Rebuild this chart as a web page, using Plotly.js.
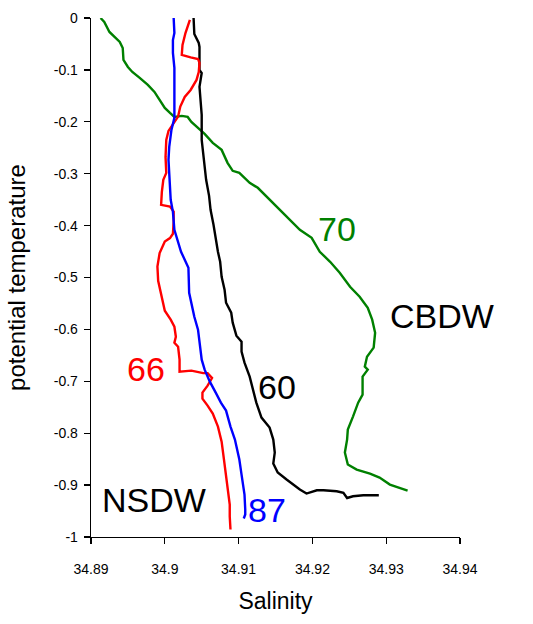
<!DOCTYPE html>
<html>
<head>
<meta charset="utf-8">
<script src="https://cdn.plot.ly/plotly-3.0.1.min.js"></script>
<style>html,body{margin:0;padding:0;background:#fff;}#chart{width:533px;height:624px;}</style>
</head>
<body>
<div id="chart"></div>
<script>
// Station 70 (green)
const sal70 = [34.8913,34.8918,34.8925,34.8932,34.8939,34.8943,34.8944,34.8950,34.8956,34.8966,34.8977,34.8986,34.8993,34.9000,34.9007,34.9013,34.9023,34.9031,34.9036,34.9043,34.9047,34.9054,34.9065,34.9077,34.9085,34.9092,34.9101,34.9115,34.9126,34.9142,34.9156,34.9169,34.9183,34.9199,34.9210,34.9224,34.9237,34.9251,34.9264,34.9275,34.9281,34.9285,34.9283,34.9274,34.9271,34.9275,34.9268,34.9268,34.9262,34.9255,34.9248,34.9247,34.9244,34.9248,34.9260,34.9278,34.9291,34.9305,34.9319,34.9329];
const theta70 = [0.0,-0.0077,-0.0269,-0.0366,-0.0462,-0.0577,-0.0808,-0.0943,-0.1040,-0.1155,-0.1290,-0.1424,-0.1578,-0.1732,-0.1829,-0.1906,-0.1886,-0.1906,-0.2002,-0.2098,-0.2156,-0.2233,-0.2406,-0.2541,-0.2791,-0.2945,-0.2984,-0.3176,-0.3272,-0.3503,-0.3696,-0.3888,-0.4081,-0.4235,-0.4504,-0.4697,-0.4909,-0.5178,-0.5371,-0.5582,-0.5813,-0.6064,-0.6352,-0.6526,-0.6718,-0.6776,-0.6910,-0.7257,-0.7411,-0.7680,-0.7931,-0.8123,-0.8373,-0.8604,-0.8701,-0.8778,-0.8855,-0.8990,-0.9066,-0.9105];

// Station 87 (blue)
const sal87 = [34.9012,34.9013,34.9011,34.9011,34.9013,34.9013,34.9012,34.9013,34.9009,34.9006,34.9005,34.9007,34.9008,34.9011,34.9013,34.9022,34.9028,34.9032,34.9033,34.9036,34.9040,34.9045,34.9048,34.9050,34.9054,34.9061,34.9069,34.9076,34.9083,34.9089,34.9095,34.9101,34.9104,34.9108,34.9109,34.9109,34.9107];
const theta87 = [0.0,-0.0289,-0.0424,-0.0674,-0.0962,-0.1328,-0.1771,-0.1925,-0.2156,-0.2483,-0.2733,-0.3215,-0.3503,-0.3734,-0.4081,-0.4504,-0.4678,-0.4812,-0.5294,-0.5486,-0.5756,-0.6006,-0.6295,-0.6583,-0.6776,-0.7007,-0.7218,-0.7411,-0.7565,-0.7873,-0.8123,-0.8508,-0.8797,-0.9182,-0.9471,-0.9567,-0.9644];

// Station 66 (red)
const sal66 = [34.9034,34.9028,34.9024,34.9023,34.9035,34.9045,34.9047,34.9046,34.9043,34.9035,34.9027,34.9021,34.9018,34.9012,34.9005,34.9002,34.9001,34.9002,34.8998,34.8996,34.8995,34.9007,34.9012,34.9012,34.9011,34.9007,34.9000,34.8993,34.8990,34.8991,34.8995,34.9000,34.9008,34.9013,34.9015,34.9013,34.9018,34.9020,34.9020,34.9036,34.9052,34.9058,34.9064,34.9058,34.9051,34.9051,34.9058,34.9065,34.9072,34.9077,34.9080,34.9083,34.9086,34.9088,34.9088,34.9089];
const theta66 = [-0.0038,-0.0289,-0.0520,-0.0712,-0.0760,-0.0789,-0.0866,-0.1040,-0.1193,-0.1386,-0.1521,-0.1707,-0.1900,-0.2021,-0.2175,-0.2348,-0.2676,-0.2984,-0.3118,-0.3349,-0.3600,-0.3632,-0.3729,-0.3927,-0.4158,-0.4241,-0.4306,-0.4529,-0.4787,-0.5063,-0.5332,-0.5640,-0.5813,-0.5948,-0.6141,-0.6256,-0.6333,-0.6583,-0.6814,-0.6795,-0.6843,-0.6843,-0.6936,-0.7084,-0.7218,-0.7334,-0.7469,-0.7623,-0.7873,-0.8162,-0.8489,-0.8816,-0.9086,-0.9374,-0.9605,-0.9856];

// Station 60 (black)
const sal60 = [34.9039,34.9040,34.9046,34.9047,34.9047,34.9050,34.9047,34.9048,34.9050,34.9050,34.9053,34.9056,34.9060,34.9062,34.9066,34.9069,34.9072,34.9075,34.9077,34.9081,34.9083,34.9090,34.9092,34.9097,34.9104,34.9104,34.9108,34.9115,34.9120,34.9124,34.9131,34.9142,34.9147,34.9149,34.9147,34.9153,34.9165,34.9172,34.9183,34.9192,34.9206,34.9215,34.9233,34.9242,34.9247,34.9255,34.9269,34.9290];
const theta60 = [0.0,-0.0308,-0.0481,-0.0558,-0.1001,-0.1059,-0.1328,-0.1521,-0.1867,-0.2348,-0.2733,-0.3118,-0.3426,-0.3696,-0.3985,-0.4273,-0.4504,-0.4697,-0.4986,-0.5236,-0.5486,-0.5679,-0.5871,-0.6121,-0.6237,-0.6429,-0.6641,-0.6910,-0.7161,-0.7411,-0.7700,-0.7892,-0.8123,-0.8373,-0.8585,-0.8758,-0.8893,-0.8970,-0.9086,-0.9163,-0.9099,-0.9099,-0.9118,-0.9149,-0.9249,-0.9215,-0.9197,-0.9197];

// Axis ticks
const xTickVals = [34.89,34.90,34.91,34.92,34.93,34.94];
const xTickText = ["34.89","34.9","34.91","34.92","34.93","34.94"];
const yTickVals = [0,-0.1,-0.2,-0.3,-0.4,-0.5,-0.6,-0.7,-0.8,-0.9,-1];
const yTickText = ["0","-0.1","-0.2","-0.3","-0.4","-0.5","-0.6","-0.7","-0.8","-0.9","-1"];

// Labels on the chart
const labelText = ["70","CBDW","EBDW","60","66","NSDW","87"];
const labelSal  = [34.9234,34.9375,34.9420,34.9152,34.8975,34.8985,34.9139];
const labelTheta= [-0.4071,-0.5736,-0.9057,-0.7103,-0.6766,-0.9288,-0.9471];
const labelColor= ["#008000","#000000","#000000","#000000","#ff0000","#000000","#0000ff"];

const FONT = "Liberation Sans, Arial, sans-serif";

function line(x, y, color) {
  return {x: x, y: y, type: "scatter", mode: "lines",
          line: {color: color, width: 2.4}, hoverinfo: "skip", showlegend: false};
}

const data = [
  line(sal70, theta70, "#008000"),
  line(sal60, theta60, "#000000"),
  line(sal66, theta66, "#ff0000"),
  line(sal87, theta87, "#0000ff")
];

const annotations = labelText.map((t, i) => ({
  x: labelSal[i], y: labelTheta[i], xref: "x", yref: "y",
  text: t, showarrow: false, xanchor: "center", yanchor: "middle",
  font: {family: FONT, size: 34, color: labelColor[i]}
}));

const layout = {
  width: 533, height: 624,
  margin: {l: 91, r: 73, t: 18, b: 87, pad: 0},
  paper_bgcolor: "#ffffff", plot_bgcolor: "#ffffff",
  font: {family: FONT, color: "#000"},
  showlegend: false,
  xaxis: {
    range: [34.89, 34.94], tickvals: xTickVals, ticktext: xTickText,
    showgrid: false, zeroline: false, showline: true, linecolor: "#000", linewidth: 1.3,
    ticks: "outside", ticklen: 6, tickwidth: 1.3, tickcolor: "#000",
    ticklabelstandoff: 13,
    tickfont: {family: FONT, size: 14, color: "#000"},
    title: {text: "Salinity", font: {family: FONT, size: 23, color: "#000"}, standoff: 16},
    automargin: false
  },
  yaxis: {
    range: [-1, 0], tickvals: yTickVals, ticktext: yTickText,
    showgrid: false, zeroline: false, showline: true, linecolor: "#000", linewidth: 1.3,
    ticks: "outside", ticklen: 6, tickwidth: 1.3, tickcolor: "#000",
    ticklabelstandoff: 3,
    tickfont: {family: FONT, size: 14, color: "#000"},
    title: {text: "potential temperature", font: {family: FONT, size: 24, color: "#000"}, standoff: 21},
    automargin: false
  },
  annotations: annotations
};

Plotly.newPlot("chart", data, layout, {staticPlot: true, displayModeBar: false});
</script>
</body>
</html>
